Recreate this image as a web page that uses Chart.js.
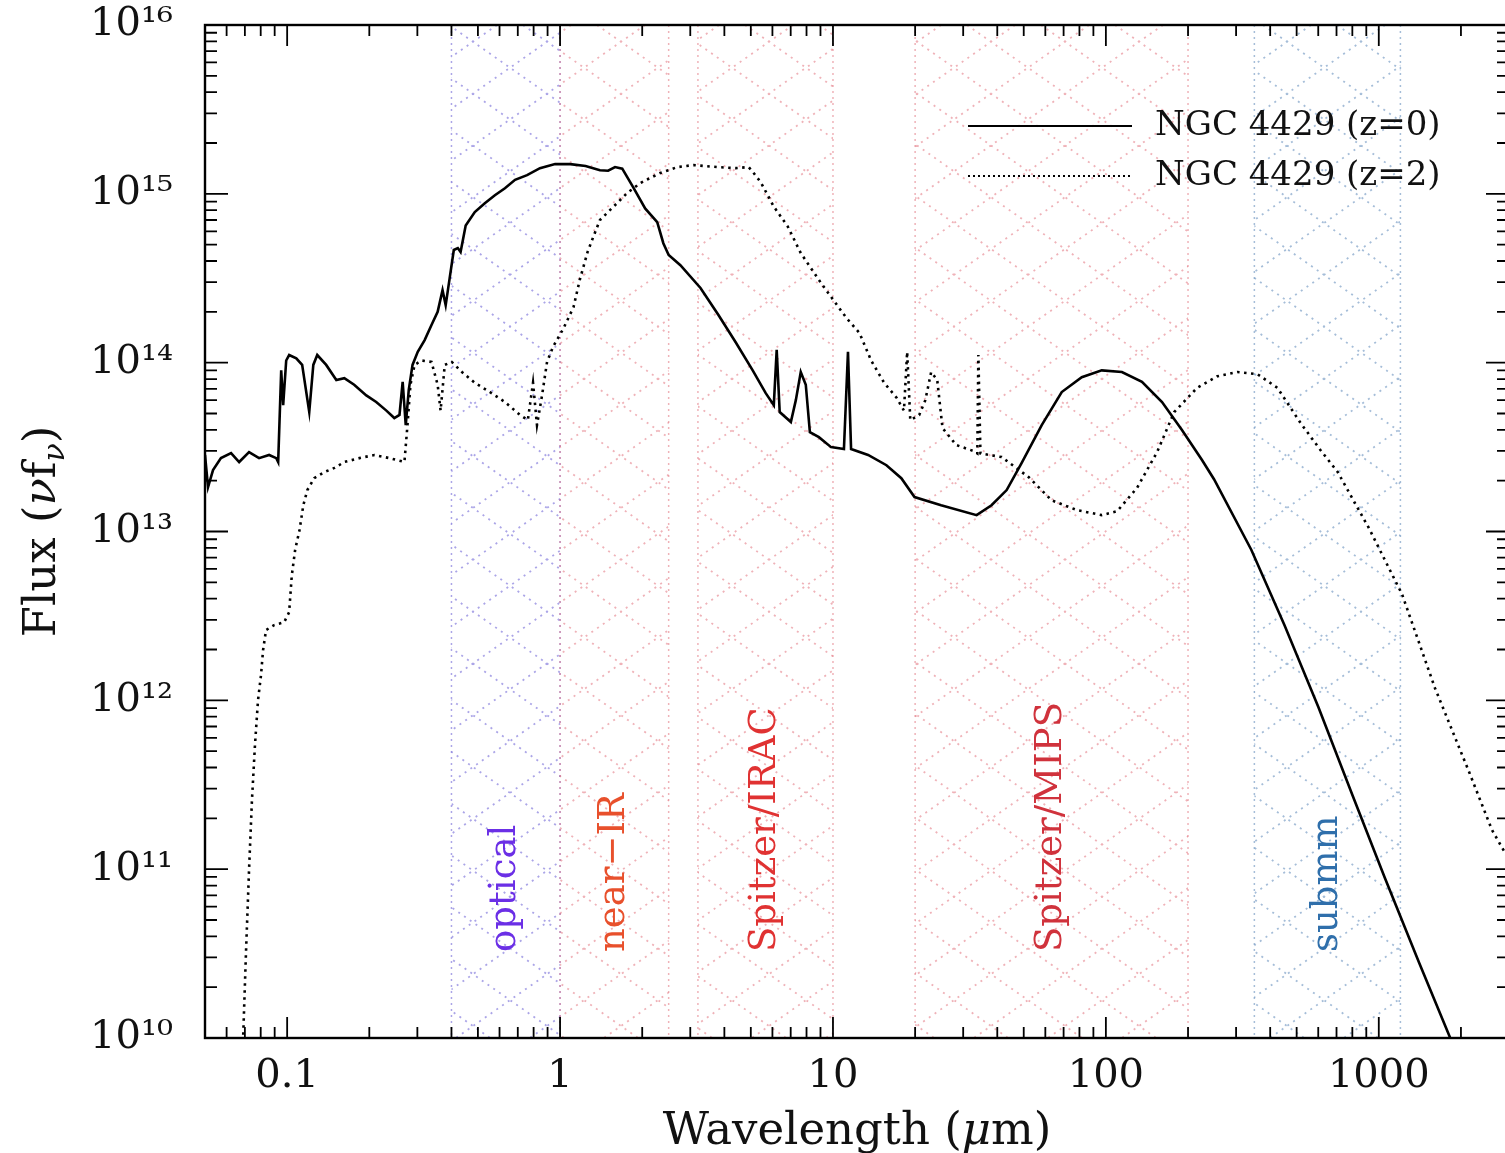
<!DOCTYPE html>
<html>
<head>
<meta charset="utf-8">
<script src="https://cdn.jsdelivr.net/npm/chart.js@4.4.0/dist/chart.umd.min.js"></script>
<style>
html, body { margin: 0; padding: 0; background: #fff; overflow: hidden; }
#wrap { width: 1505px; height: 1153px; overflow: hidden; }
</style>
</head>
<body>
<div id="wrap"><canvas id="myChart" width="1520" height="1153"></canvas></div>
<script>
// NGC 4429 SED, z=0 (solid) and redshifted to z=2 (dotted)
var wavelengthZ0 = [0.05, 0.0513, 0.0535, 0.0572, 0.0623, 0.0667, 0.0725, 0.0789, 0.0859, 0.0912, 0.0927,
    0.0951, 0.0967, 0.0992, 0.1017, 0.108, 0.1135, 0.1205, 0.1247, 0.1289, 0.139, 0.1514, 0.162, 0.176,
    0.195, 0.212, 0.231, 0.247, 0.258, 0.265, 0.272, 0.279, 0.288, 0.301, 0.319, 0.338, 0.356, 0.371,
    0.381, 0.394, 0.408, 0.422, 0.432, 0.451, 0.487, 0.530, 0.577, 0.628, 0.684, 0.757, 0.844, 0.959,
    1.09, 1.24, 1.40, 1.50, 1.59, 1.69, 1.85, 2.05, 2.27, 2.39, 2.50, 2.76, 3.27, 3.81, 4.40, 5.08,
    5.67, 6.07, 6.22, 6.38, 7.01, 7.31, 7.62, 7.95, 8.23, 8.88, 9.84, 10.97, 11.35, 11.65, 13.45, 15.7,
    17.8, 19.9, 24.9, 33.6, 38.1, 43.3, 49.1, 58.2, 68.9, 81.6, 96.6, 114.5, 135.6, 160.6, 190, 225,
    249, 341, 451, 601, 801, 1052, 1403, 1872];
var fluxZ0 = [2.84e13, 1.83e13, 2.31e13, 2.72e13, 2.91e13, 2.58e13, 2.95e13, 2.72e13, 2.84e13, 2.72e13, 2.58e13,
    9.0e13, 5.6e13, 1.03e14, 1.11e14, 1.06e14, 9.7e13, 5.1e13, 9.7e13, 1.11e14, 9.7e13, 7.9e13, 8.1e13, 7.4e13,
    6.4e13, 5.85e13, 5.2e13, 4.7e13, 4.9e13, 7.7e13, 4.27e13, 6.9e13, 9.7e13, 1.16e14, 1.36e14, 1.67e14, 2.0e14, 2.69e14,
    2.19e14, 3.17e14, 4.65e14, 4.77e14, 4.52e14, 6.5e14, 7.8e14, 8.8e14, 9.8e14, 1.08e15, 1.21e15, 1.29e15, 1.42e15, 1.50e15,
    1.50e15, 1.46e15, 1.38e15, 1.37e15, 1.44e15, 1.41e15, 1.10e15, 8.2e14, 6.8e14, 5.1e14, 4.34e14, 3.78e14, 2.77e14, 1.91e14, 1.32e14, 9.0e13,
    6.6e13, 5.6e13, 1.19e14, 5.1e13, 4.45e13, 6.0e13, 8.8e13, 7.4e13, 3.88e13, 3.62e13, 3.16e13, 3.08e13, 1.16e14, 3.08e13, 2.84e13, 2.47e13,
    2.07e13, 1.60e13, 1.43e13, 1.25e13, 1.43e13, 1.76e13, 2.54e13, 4.27e13, 6.7e13, 8.2e13, 9.0e13, 8.8e13, 7.7e13, 5.85e13, 3.99e13, 2.65e13,
    2.04e13, 7.8e12, 2.79e12, 9.1e11, 2.74e11, 8.9e10, 2.81e10, 9.1e9];

var wavelengthZ2 = [0.0689, 0.0707, 0.0725, 0.0743, 0.0762, 0.0782, 0.0802, 0.0816, 0.0837, 0.0896, 0.0975,
    0.1017, 0.104, 0.107, 0.111, 0.1146, 0.1186, 0.1257, 0.137, 0.149, 0.162, 0.184, 0.209, 0.237, 0.269,
    0.276, 0.283, 0.293, 0.311, 0.338, 0.356, 0.365, 0.378, 0.401, 0.437, 0.487, 0.553, 0.628, 0.713, 0.762,
    0.796, 0.823, 0.859, 0.896, 0.942, 1.03, 1.12, 1.18, 1.26, 1.32, 1.40, 1.57, 1.76, 1.97, 2.33, 2.69,
    3.08, 3.78, 4.40, 4.91, 5.08, 5.44, 6.07, 6.83, 7.62, 9.03, 11.2, 12.5, 13.8, 15.4, 17.1, 18.2, 18.7,
    19.2, 20.7, 21.8, 22.9, 24.1, 25.2, 28.3, 32.7, 33.8, 34.1, 34.7, 41.5, 52.1, 63.3, 78.2, 96.6, 110,
    130, 154, 178, 216, 256, 303, 359, 425, 517, 612, 707, 919, 1216, 1607, 2143, 2602, 2980];
var fluxZ2 = [9.5e9, 3.3e10, 9.9e10, 2.56e11, 5.4e11, 1.0e12, 1.41e12, 1.98e12, 2.61e12, 2.79e12, 2.9e12,
    3.33e12, 5.5e12, 7.8e12, 1.02e13, 1.43e13, 1.76e13, 2.07e13, 2.25e13, 2.38e13, 2.58e13, 2.72e13, 2.84e13, 2.72e13, 2.58e13,
    4.27e13, 7.4e13, 9.7e13, 1.03e14, 1.01e14, 7.4e13, 5.2e13, 9.7e13, 1.01e14, 8.8e13, 7.6e13, 6.7e13, 5.85e13, 4.9e13, 4.57e13,
    7.6e13, 4.27e13, 6.4e13, 1.01e14, 1.24e14, 1.60e14, 2.13e14, 3.08e14, 4.5e14, 5.5e14, 7.0e14, 8.4e14, 1.01e15, 1.16e15, 1.33e15, 1.44e15,
    1.48e15, 1.44e15, 1.42e15, 1.44e15, 1.35e15, 1.17e15, 8.4e14, 6.4e14, 4.46e14, 2.97e14, 1.84e14, 1.50e14, 1.03e14, 7.6e13, 6.2e13, 5.2e13, 1.16e14,
    4.57e13, 4.9e13, 6.0e13, 8.8e13, 7.9e13, 4.1e13, 3.25e13, 3.0e13, 2.9e13, 1.11e14, 2.9e13, 2.76e13, 2.1e13, 1.53e13, 1.34e13, 1.25e13, 1.32e13,
    1.81e13, 2.95e13, 5.1e13, 7.1e13, 8.3e13, 8.8e13, 8.55e13, 7.1e13, 4.39e13, 3.03e13, 2.25e13, 1.05e13, 4.26e12, 1.18e12, 3.76e11, 1.70e11, 1.16e11];

var seriesNames = ['NGC 4429 (z=0)', 'NGC 4429 (z=2)'];

// wavelength bands (micron)
var bandNames = ['optical', 'near\u2212IR', 'Spitzer/IRAC', 'Spitzer/MIPS', 'submm'];
var bandLow = [0.4, 1.0, 3.2, 20, 350];
var bandHigh = [1.0, 2.5, 10, 200, 1200];

var xMajorValues = [0.1, 1, 10, 100, 1000];
var xMajorLabels = ['0.1', '1', '10', '100', '1000'];
var yMajorValues = [1e10, 1e11, 1e12, 1e13, 1e14, 1e15, 1e16];
var yMajorLabels = ['10\u00b9\u2070', '10\u00b9\u00b9', '10\u00b9\u00b2', '10\u00b9\u00b3', '10\u00b9\u2074', '10\u00b9\u2075', '10\u00b9\u2076'];

// styles
var bandHatch = ['rgba(115,105,215,0.6)', 'rgba(225,115,125,0.55)', 'rgba(225,115,125,0.55)', 'rgba(225,115,125,0.55)', 'rgba(105,145,190,0.6)'];
var bandText = ['#6b2fe6', '#e8502c', '#e03232', '#d0323c', '#2f6fab'];
var serif = "'DejaVu Serif', 'Liberation Serif', serif";

function logTicks(min, max) {
    var out = [];
    for (var e = -3; e <= 17; e++) {
        for (var m = 1; m <= 9; m++) {
            var v = m * Math.pow(10, e);
            if (v >= min * 0.999 && v <= max * 1.001) out.push({value: v, major: m === 1});
        }
    }
    return out;
}

function labelFor(v, values, labels) {
    for (var i = 0; i < values.length; i++) {
        if (Math.abs(Math.log10(v) - Math.log10(values[i])) < 1e-6) return labels[i];
    }
    return '';
}

function toPoints(xs, ys) {
    return xs.map(function (w, i) { return {x: w, y: ys[i]}; });
}

function drawParts(ctx, parts, x, y) {
    // parts: [text, font, dy]
    parts.forEach(function (p) {
        ctx.font = p[1];
        ctx.fillText(p[0], x, y + p[2]);
        x += ctx.measureText(p[0]).width;
    });
}
function partsWidth(ctx, parts) {
    var w = 0;
    parts.forEach(function (p) { ctx.font = p[1]; w += ctx.measureText(p[0]).width; });
    return w;
}

var sedDecor = {
    id: 'sedDecor',
    beforeDatasetsDraw: function (chart) {
        var ctx = chart.ctx, a = chart.chartArea, xs = chart.scales.x;
        var slope = 0.70, pitch = 74, h = a.bottom - a.top, reach = h / slope;
        bandNames.forEach(function (name, i) {
            var x0 = xs.getPixelForValue(bandLow[i]);
            var x1 = xs.getPixelForValue(bandHigh[i]);
            ctx.save();
            ctx.beginPath();
            ctx.rect(x0, a.top, x1 - x0, h);
            ctx.clip();
            ctx.strokeStyle = bandHatch[i];
            ctx.lineWidth = 1.8;
            ctx.setLineDash([2, 5]);
            ctx.beginPath();
            var c0 = -291, b0 = 1311;
            var c = c0 + Math.floor((x0 - reach - pitch - c0) / pitch) * pitch;
            for (; c < x1 + pitch; c += pitch) {
                ctx.moveTo(c, a.top);
                ctx.lineTo(c + reach, a.bottom);
            }
            var b = b0 + Math.floor((x0 - pitch - b0) / pitch) * pitch;
            for (; b < x1 + reach + pitch; b += pitch) {
                ctx.moveTo(b, a.top);
                ctx.lineTo(b - reach, a.bottom);
            }
            ctx.stroke();
            ctx.restore();

            ctx.save();
            ctx.strokeStyle = bandHatch[i];
            ctx.lineWidth = 1.5;
            ctx.setLineDash([2, 4]);
            ctx.beginPath();
            ctx.moveTo(x0, a.top); ctx.lineTo(x0, a.bottom);
            ctx.moveTo(x1, a.top); ctx.lineTo(x1, a.bottom);
            ctx.stroke();
            ctx.restore();

            // label at the log-centre of the band
            var cx = xs.getPixelForValue(Math.sqrt(bandLow[i] * bandHigh[i]));
            ctx.save();
            ctx.translate(cx, 952);
            ctx.rotate(-Math.PI / 2);
            ctx.fillStyle = bandText[i];
            ctx.font = '37px ' + serif;
            ctx.textAlign = 'left';
            ctx.textBaseline = 'middle';
            ctx.fillText(name, 0, 0);
            ctx.restore();
        });
    },
    afterDraw: function (chart) {
        var ctx = chart.ctx, a = chart.chartArea, xs = chart.scales.x, ys = chart.scales.y;
        ctx.save();
        ctx.strokeStyle = '#000';
        ctx.lineWidth = 2.4;
        ctx.strokeRect(a.left, a.top, a.right - a.left, a.bottom - a.top);

        ctx.lineWidth = 1.8;
        ctx.beginPath();
        xs.ticks.forEach(function (t) {
            var px = xs.getPixelForValue(t.value), len = t.major ? 21 : 11;
            ctx.moveTo(px, a.bottom); ctx.lineTo(px, a.bottom - len);
            ctx.moveTo(px, a.top); ctx.lineTo(px, a.top + len);
        });
        ys.ticks.forEach(function (t) {
            var py = ys.getPixelForValue(t.value), len = t.major ? 23 : 12;
            ctx.moveTo(a.left, py); ctx.lineTo(a.left + len, py);
            ctx.moveTo(a.right, py); ctx.lineTo(a.right - len, py);
        });
        ctx.stroke();

        // legend
        chart.data.datasets.forEach(function (ds, i) {
            var y = 126 + i * 50;
            ctx.save();
            ctx.strokeStyle = ds.borderColor;
            ctx.lineWidth = i === 0 ? 2 : 1.8;
            ctx.setLineDash(i === 0 ? [] : [2, 3]);
            ctx.beginPath();
            ctx.moveTo(968, y); ctx.lineTo(1132, y);
            ctx.stroke();
            ctx.restore();
            ctx.fillStyle = '#111';
            ctx.font = '34px ' + serif;
            ctx.textAlign = 'left';
            ctx.textBaseline = 'middle';
            ctx.fillText(ds.label, 1155, y);
        });

        // axis titles
        ctx.fillStyle = '#111';
        ctx.textAlign = 'left';
        ctx.textBaseline = 'alphabetic';
        var big = '45px ' + serif, bigIt = 'italic 45px ' + serif, sub = 'italic 30px ' + serif;
        var xt = [['Wavelength (', big, 0], ['\u03bc', bigIt, 0], ['m)', big, 0]];
        var w = partsWidth(ctx, xt);
        drawParts(ctx, xt, (a.left + a.right) / 2 - w / 2, 1144);

        var yt = [['Flux (', big, 0], ['\u03bd', bigIt, 0], ['f', big, 0], ['\u03bd', sub, 9], [')', big, 0]];
        var wy = partsWidth(ctx, yt);
        ctx.translate(55, (a.top + a.bottom) / 2);
        ctx.rotate(-Math.PI / 2);
        drawParts(ctx, yt, -wy / 2, 0);
        ctx.restore();
    }
};

var ctx = document.getElementById('myChart').getContext('2d');
var chart = new Chart(ctx, {
    type: 'scatter',
    data: {
        datasets: [
            {
                label: seriesNames[0],
                data: toPoints(wavelengthZ0, fluxZ0),
                showLine: true,
                borderColor: '#000',
                borderWidth: 2.6,
                pointRadius: 0,
                tension: 0
            },
            {
                label: seriesNames[1],
                data: toPoints(wavelengthZ2, fluxZ2),
                showLine: true,
                borderColor: '#000',
                borderWidth: 2.6,
                borderDash: [2.5, 4.5],
                pointRadius: 0,
                tension: 0
            }
        ]
    },
    options: {
        responsive: false,
        animation: false,
        devicePixelRatio: 1,
        layout: { padding: { left: 0, right: 11, top: 25, bottom: 0 } },
        plugins: { legend: { display: false }, tooltip: { enabled: false } },
        scales: {
            x: {
                type: 'logarithmic',
                min: 0.05,
                max: 3000,
                grid: { display: false },
                border: { display: false },
                afterBuildTicks: function (s) { s.ticks = logTicks(0.05, 3000); },
                afterFit: function (s) { s.height = 115; s.paddingLeft = 0; s.paddingRight = 0; },
                ticks: {
                    autoSkip: false, maxRotation: 0, minRotation: 0, padding: 7,
                    color: '#111', font: { family: serif, size: 40 },
                    callback: function (v) { return labelFor(v, xMajorValues, xMajorLabels); }
                }
            },
            y: {
                type: 'logarithmic',
                min: 1e10,
                max: 1e16,
                grid: { display: false },
                border: { display: false },
                afterBuildTicks: function (s) { s.ticks = logTicks(1e10, 1e16); },
                afterFit: function (s) { s.width = 205; s.paddingTop = 0; s.paddingBottom = 0; },
                ticks: {
                    autoSkip: false, padding: 24,
                    color: '#111', font: { family: serif, size: 40 },
                    callback: function (v) { return labelFor(v, yMajorValues, yMajorLabels); }
                }
            }
        }
    },
    plugins: [sedDecor]
});
</script>
</body>
</html>
